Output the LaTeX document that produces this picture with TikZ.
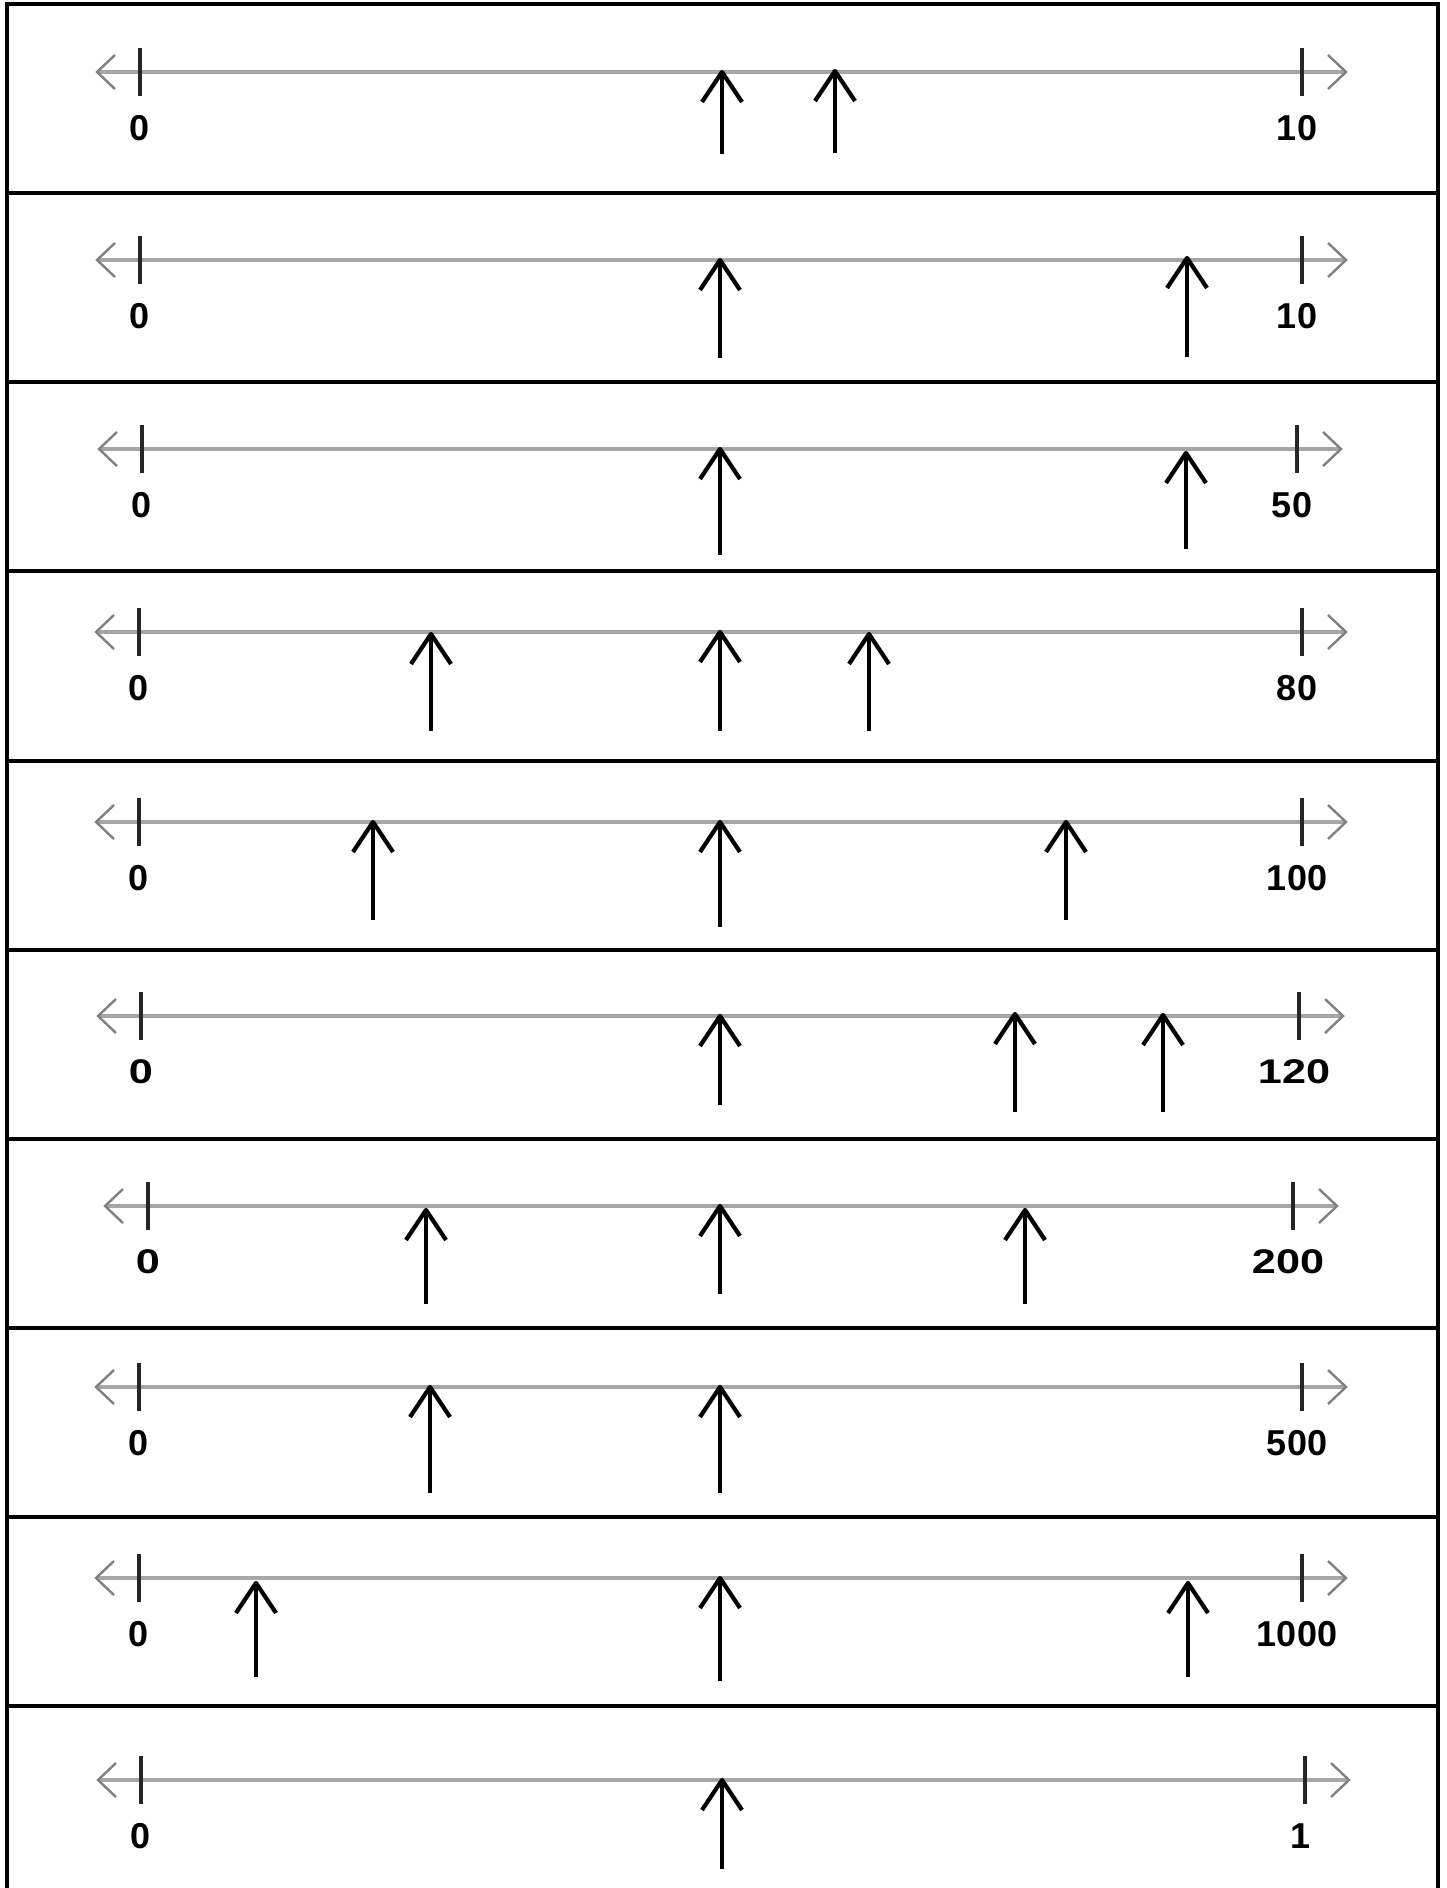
\documentclass[tikz,border=0pt]{standalone}
\usepackage{fontspec}
\setmainfont{Liberation Sans}
\newcommand\myNL[6]{% #1 name, #2 y, #3 xL, #4 xR, #5 right label, #6 label style
  \draw[axis] ({#3-43},{#2}) -- ({#4+44},{#2});
  \draw[chev] ({#3-25},{#2-17}) -- ({#3-43},{#2}) -- ({#3-25},{#2+17});
  \draw[chev] ({#4+26},{#2-17}) -- ({#4+44},{#2}) -- ({#4+26},{#2+17});
  \draw[tickmark] ({#3},{#2-24}) -- ({#3},{#2+24});
  \draw[tickmark] ({#4},{#2-24}) -- ({#4},{#2+24});
  \node[lab,#6] (#1L) at ({#3},{#2+56}) {0};
  \node[lab,#6] (#1R) at ({#4-5},{#2+56}) {#5};
}
\newcommand\myArr[3]{% #1 x, #2 tip y, #3 bottom y
  \draw[ptr] ({#1-20},{#2+30}) -- ({#1},{#2}) -- ({#1+20},{#2+30});
  \draw[ptr] ({#1},{#2}) -- ({#1},{#3});
}
\begin{document}
\begin{tikzpicture}[x=0.5pt,y=-0.5pt,
  frame/.style={line width=2pt, black},
  axis/.style={line width=1.8pt, black!35},
  chev/.style={line width=1.2pt, black!50, line join=miter},
  tickmark/.style={line width=1.9pt, black!85},
  ptr/.style={line width=2.1pt, black, line join=round},
  lab/.style={font=\bfseries\fontsize{18}{18}\selectfont, inner sep=0pt, anchor=center},
  wide/.style={xscale=1.2, yscale=0.95, transform shape}]
\useasboundingbox (0,0) rectangle (1446,1888);
% frame
\draw[frame] (7,1888) -- (7,4) -- (1438,4) -- (1438,1888);
\foreach \d in {192.6,381.7,570.7,761,950,1139,1328,1517,1706}
  \draw[frame] (7,\d) -- (1438,\d);
% row 1
\myNL{r1}{72}{140}{1302}{10}{}
\myArr{722}{72}{154}
\myArr{835}{71}{153}
% row 2
\myNL{r2}{260}{140}{1302}{10}{}
\myArr{720}{260}{358}
\myArr{1187}{258}{357}
% row 3
\myNL{r3}{449}{142}{1297}{50}{}
\myArr{720}{449}{555}
\myArr{1186}{453}{549}
% row 4
\myNL{r4}{632}{139}{1302}{80}{}
\myArr{431}{634}{731}
\myArr{720}{632}{731}
\myArr{869}{634}{731}
% row 5
\myNL{r5}{822}{139}{1302}{100}{}
\myArr{373}{822}{920}
\myArr{720}{822}{927}
\myArr{1066}{822}{920}
% row 6
\myNL{r6}{1016}{141}{1299}{120}{wide}
\myArr{720}{1016}{1105}
\myArr{1015}{1014}{1112}
\myArr{1163}{1015}{1112}
% row 7
\myNL{r7}{1206}{148}{1293}{200}{wide}
\myArr{426}{1210}{1304}
\myArr{720}{1206}{1294}
\myArr{1025}{1210}{1304}
% row 8
\myNL{r8}{1387}{139}{1302}{500}{}
\myArr{430}{1387}{1493}
\myArr{720}{1387}{1493}
% row 9
\myNL{r9}{1578}{139}{1302}{1000}{}
\myArr{256}{1583}{1677}
\myArr{720}{1578}{1681}
\myArr{1188}{1583}{1677}
% row 10
\myNL{r10}{1780}{141}{1305}{1}{}
\myArr{722}{1780}{1869}
\end{tikzpicture}
\end{document}
